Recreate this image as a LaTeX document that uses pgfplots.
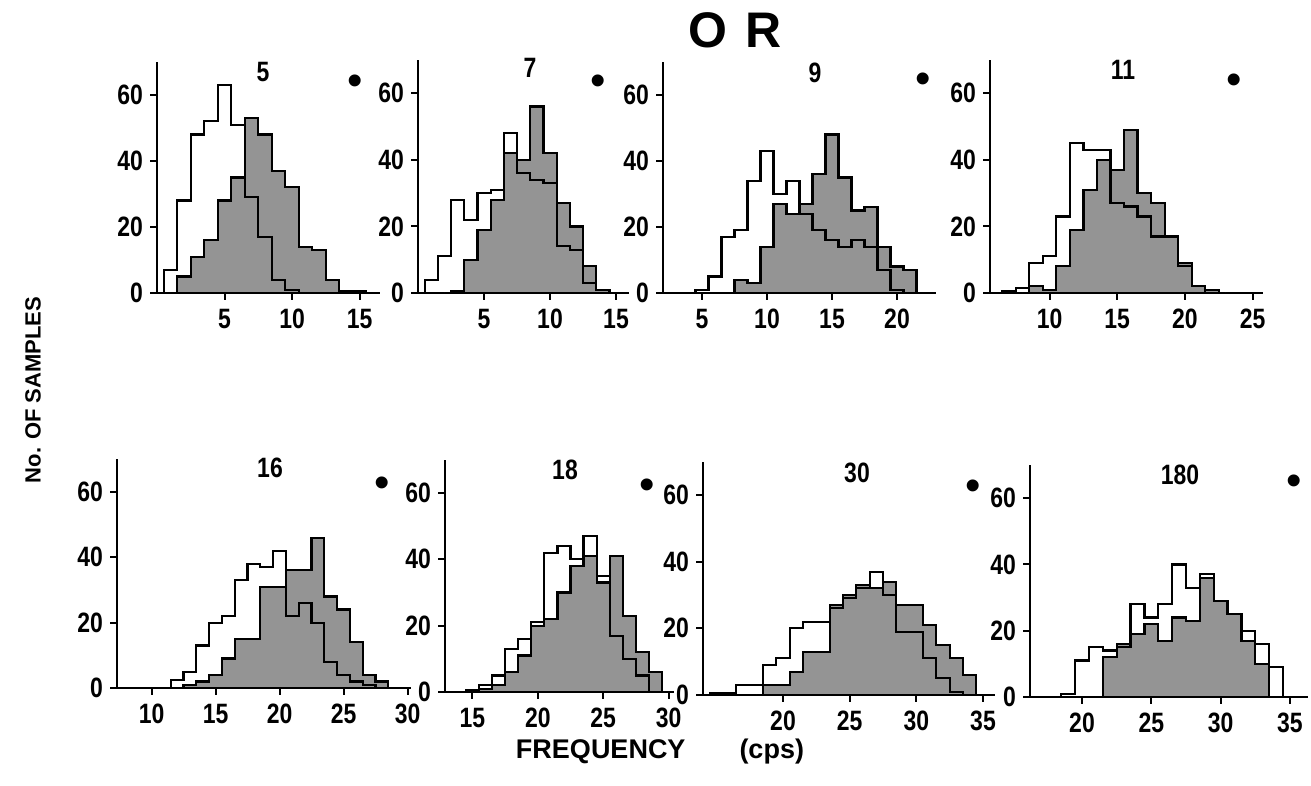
\documentclass[border=0pt]{standalone}
\usepackage{pgfplots}
\pgfplotsset{compat=1.18}
\usepackage{fontspec}
\setmainfont{Liberation Sans}
\newfontfamily\condfont{Liberation Sans}[FakeStretch=0.82]
\pgfplotsset{
  panel/.style={
    scale only axis, anchor=south west,
    ymin=0, ymax=70, ytick={0,20,40,60},
    axis x line=bottom, axis y line=left,
    axis line style={-, line width=1.3pt},
    tick style={black, line width=1pt},
    tick align=outside, major tick length=3.5pt,
    /pgf/number format/assume math mode=true,
    ticklabel style={font=\condfont\bfseries\fontsize{14}{14}\selectfont},
    xticklabel style={yshift=-1pt},
  },
  shaded/.style={const plot mark mid, fill=black!42, draw=black, line width=1.1pt},
  open/.style={const plot mark mid, draw=black, line width=1.1pt},
}
\begin{document}
\begin{tikzpicture}
\useasboundingbox (0,0) rectangle (655.5pt,393pt);
% ---------- top row ----------
\begin{axis}[panel, at={(78.5pt,246.5pt)}, width=111.4pt, height=115.5pt,
  xmin=0, xmax=16.5, xtick={5,10,15}]
\addplot[shaded] coordinates {(1,0)(2,5)(3,11)(4,16)(5,28)(6,35)(7,53)(8,48)(9,37)(10,32)(11,14)(12,13)(13,4)(14,0.5)(15,0.5)(16,0)} \closedcycle;
\addplot[open] coordinates {(0,0)(1,7)(2,28)(3,48)(4,52)(5,63)(6,51)(7,29)(8,17)(9,4)(10,1)(11,0)};
\end{axis}
\begin{axis}[panel, at={(209pt,246.5pt)}, width=105.6pt, height=116.5pt,
  xmin=0, xmax=16, xtick={5,10,15}]
\addplot[shaded] coordinates {(2,0)(3,0.5)(4,10)(5,19)(6,28)(7,42)(8,40)(9,56)(10,42)(11,27)(12,20)(13,8)(14,1)(15,0)} \closedcycle;
\addplot[open] coordinates {(0,0)(1,4)(2,11)(3,28)(4,22)(5,30)(6,31)(7,48)(8,36)(9,34)(10,33)(11,14)(12,13)(13,3)(14,1)(15,0)};
\end{axis}
\begin{axis}[panel, at={(331.5pt,246.5pt)}, width=136.5pt, height=115.5pt,
  xmin=2, xmax=23, xtick={5,10,15,20}]
\addplot[shaded] coordinates {(7,0)(8,4)(9,3)(10,14)(11,27)(12,24)(13,27)(14,36)(15,48)(16,35)(17,25)(18,26)(19,14)(20,8)(21,7)(22,0)} \closedcycle;
\addplot[open] coordinates {(4,0)(5,1)(6,5)(7,17)(8,19)(9,34)(10,43)(11,30)(12,34)(13,24)(14,19)(15,16)(16,14)(17,16)(18,14)(19,7)(20,1)(21,0)};
\end{axis}
\begin{axis}[panel, at={(495pt,246.5pt)}, width=136.7pt, height=116.5pt,
  xmin=5.6, xmax=25.8, xtick={10,15,20,25}]
\addplot[shaded] coordinates {(8,0)(9,2)(10,1)(11,8)(12,19)(13,31)(14,40)(15,37)(16,49)(17,30)(18,27)(19,17)(20,9)(21,2)(22,1)(23,0)} \closedcycle;
\addplot[open] coordinates {(6,0)(7,0.5)(8,1.5)(9,9)(10,11)(11,23)(12,45)(13,43)(14,43)(15,27)(16,26)(17,23)(18,17)(19,17)(20,8)(21,2)(22,0)};
\end{axis}
% ---------- bottom row ----------
\begin{axis}[panel, at={(58.5pt,49pt)}, width=147.2pt, height=114.4pt,
  xmin=7.3, xmax=30.3, xtick={10,15,20,25,30}]
\addplot[shaded] coordinates {(12,0)(13,1)(14,2)(15,4)(16,9)(17,15)(18,15)(19,31)(20,31)(21,36)(22,36)(23,46)(24,28)(25,24)(26,14)(27,4)(28,2)(29,0)} \closedcycle;
\addplot[open] coordinates {(11,0)(12,2.5)(13,5)(14,13)(15,20)(16,22)(17,33)(18,38)(19,37)(20,42)(21,22)(22,26)(23,20)(24,8)(25,4)(26,2)(27,1)(28,0)};
\end{axis}
\begin{axis}[panel, at={(222.5pt,47pt)}, width=114.4pt, height=116.1pt,
  xmin=12.9, xmax=30.4, xtick={15,20,25,30}]
\addplot[shaded] coordinates {(15,0)(16,1)(17,2)(18,6)(19,11)(20,20)(21,22)(22,30)(23,38)(24,41)(25,33)(26,41)(27,23)(28,12)(29,6)(30,0)} \closedcycle;
\addplot[open] coordinates {(14,0)(15,0.5)(16,2)(17,5)(18,13)(19,16)(20,21)(21,42)(22,44)(23,40)(24,47)(25,35)(26,17)(27,10)(28,5)(29,0)};
\end{axis}
\begin{axis}[panel, at={(351.5pt,45.5pt)}, width=146pt, height=116.7pt,
  xmin=14, xmax=35.9, xtick={20,25,30,35}]
\addplot[shaded] coordinates {(18,0)(19,3)(20,3)(21,7)(22,13)(23,13)(24,27)(25,30)(26,33)(27,32)(28,34)(29,27)(30,27)(31,21)(32,15)(33,11)(34,6)(35,0)} \closedcycle;
\addplot[open] coordinates {(14,0)(15,0.5)(16,0.5)(17,3)(18,3)(19,9)(20,11)(21,20)(22,22)(23,22)(24,26)(25,29)(26,32)(27,37)(28,30)(29,19)(30,19)(31,11)(32,5)(33,1)(34,0)};
\end{axis}
\begin{axis}[panel, at={(515pt,44.5pt)}, width=139pt, height=116pt,
  xmin=16.25, xmax=36.3, xtick={20,25,30,35}]
\addplot[shaded] coordinates {(21,0)(22,12)(23,16)(24,19)(25,22)(26,17)(27,24)(28,23)(29,36)(30,29)(31,25)(32,17)(33,10)(34,0)} \closedcycle;
\addplot[open] coordinates {(18,0)(19,1)(20,11)(21,15)(22,14)(23,15)(24,28)(25,24)(26,28)(27,40)(28,33)(29,37)(30,29)(31,25)(32,20)(33,16)(34,9)(35,0)};
\end{axis}
% ---------- texts ----------
\begin{scope}[every node/.style={font=\condfont\bfseries\fontsize{14}{14}\selectfont}]
\node at (131.5pt,357pt) {5};
\node at (265pt,359pt) {7};
\node at (407.5pt,356.5pt) {9};
\node at (561.5pt,358pt) {11};
\node at (135pt,159pt) {16};
\node at (282.5pt,158pt) {18};
\node at (428.5pt,156.5pt) {30};
\node at (590pt,155.5pt) {180};
\end{scope}
\begin{scope}[every node/.style={font=\fontsize{22}{22}\selectfont, inner sep=0pt}]
\node at (177.5pt,350.5pt) {\textbullet};
\node at (299pt,350.5pt) {\textbullet};
\node at (461.5pt,351.5pt) {\textbullet};
\node at (617pt,351pt) {\textbullet};
\node at (191pt,149.5pt) {\textbullet};
\node at (323.5pt,148.5pt) {\textbullet};
\node at (486.5pt,148pt) {\textbullet};
\node at (647pt,150.5pt) {\textbullet};
\end{scope}
\node[font=\bfseries\fontsize{25}{25}\selectfont] at (367.5pt,378pt) {O\hspace{0.35em}R};
\node[font=\bfseries\fontsize{11}{11}\selectfont, rotate=90] at (16.5pt,198pt) {No. OF SAMPLES};
\node[font=\bfseries\fontsize{13.5}{13.5}\selectfont] at (330pt,17pt) {FREQUENCY\hspace{2em}(cps)};
\end{tikzpicture}
\end{document}
